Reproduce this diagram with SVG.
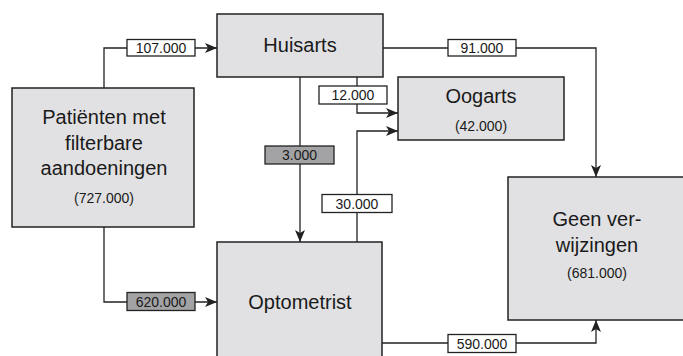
<svg xmlns="http://www.w3.org/2000/svg" width="683" height="356" viewBox="0 0 683 356">
<style>
.node{fill:#e1e1e3;stroke:#222;stroke-width:1.5}
.lbl{fill:#fff;stroke:#222;stroke-width:1.3}
.lblg{fill:#a3a3a5;stroke:#222;stroke-width:1.3}
.ln{fill:none;stroke:#222;stroke-width:1.3}
.big{font-family:"Liberation Sans",Arial,sans-serif;font-size:20px;fill:#1a1a1a;text-anchor:middle}
.sm{font-family:"Liberation Sans",Arial,sans-serif;font-size:14px;fill:#1a1a1a;text-anchor:middle}
</style>
<defs>
<marker id="ah" viewBox="0 0 12 10" refX="12" refY="5" markerWidth="12" markerHeight="10" markerUnits="userSpaceOnUse" orient="auto">
<path d="M0,0 L12,5 L0,10 L3,5 Z" fill="#222"/>
</marker>
</defs>
<rect width="683" height="356" fill="#fff"/>
<g id="connectors">
<path class="ln" d="M104,88 V48 H217" marker-end="url(#ah)"/>
<path class="ln" d="M383,48 H596 V177" marker-end="url(#ah)"/>
<path class="ln" d="M357,77 V113 H398" marker-end="url(#ah)"/>
<path class="ln" d="M300,77 V242" marker-end="url(#ah)"/>
<path class="ln" d="M357,242 V131 H398" marker-end="url(#ah)"/>
<path class="ln" d="M104,227 V302 H217" marker-end="url(#ah)"/>
<path class="ln" d="M382,343 H596 V320" marker-end="url(#ah)"/>
<g id="lbl-107"><rect class="lbl" x="127" y="39.5" width="68" height="16.5"/><text class="sm" x="161" y="53">107.000</text></g>
<g id="lbl-91"><rect class="lbl" x="448" y="39.5" width="68" height="16.5"/><text class="sm" x="482" y="53">91.000</text></g>
<g id="lbl-12"><rect class="lbl" x="319" y="86" width="68" height="18"/><text class="sm" x="353" y="100">12.000</text></g>
<g id="lbl-3"><rect class="lblg" x="265" y="146" width="69" height="18"/><text class="sm" x="299.5" y="160">3.000</text></g>
<g id="lbl-30"><rect class="lbl" x="322" y="194.5" width="70" height="18"/><text class="sm" x="357" y="208.5">30.000</text></g>
<g id="lbl-620"><rect class="lblg" x="127" y="292.5" width="68" height="18"/><text class="sm" x="161" y="306.5">620.000</text></g>
<g id="lbl-590"><rect class="lbl" x="448" y="334.5" width="68" height="18"/><text class="sm" x="482" y="348.5">590.000</text></g>
</g>
<g id="patienten">
<rect class="node" x="12" y="88" width="182" height="139"/>
<text class="big" x="104" y="124">Patiënten met</text>
<text class="big" x="104" y="150">filterbare</text>
<text class="big" x="104" y="175">aandoeningen</text>
<text class="sm" x="104" y="203">(727.000)</text>
</g>
<g id="huisarts">
<rect class="node" x="217" y="14" width="166" height="63"/>
<text class="big" x="300" y="52">Huisarts</text>
</g>
<g id="oogarts">
<rect class="node" x="398" y="77" width="166" height="63"/>
<text class="big" x="481" y="103">Oogarts</text>
<text class="sm" x="481" y="131">(42.000)</text>
</g>
<g id="optometrist">
<rect class="node" x="217" y="242" width="165" height="120"/>
<text class="big" x="300" y="309">Optometrist</text>
</g>
<g id="geen">
<rect class="node" x="508" y="177" width="185" height="143"/>
<text class="big" x="597" y="226">Geen ver-</text>
<text class="big" x="597" y="252">wijzingen</text>
<text class="sm" x="597" y="278">(681.000)</text>
</g>
</svg>
